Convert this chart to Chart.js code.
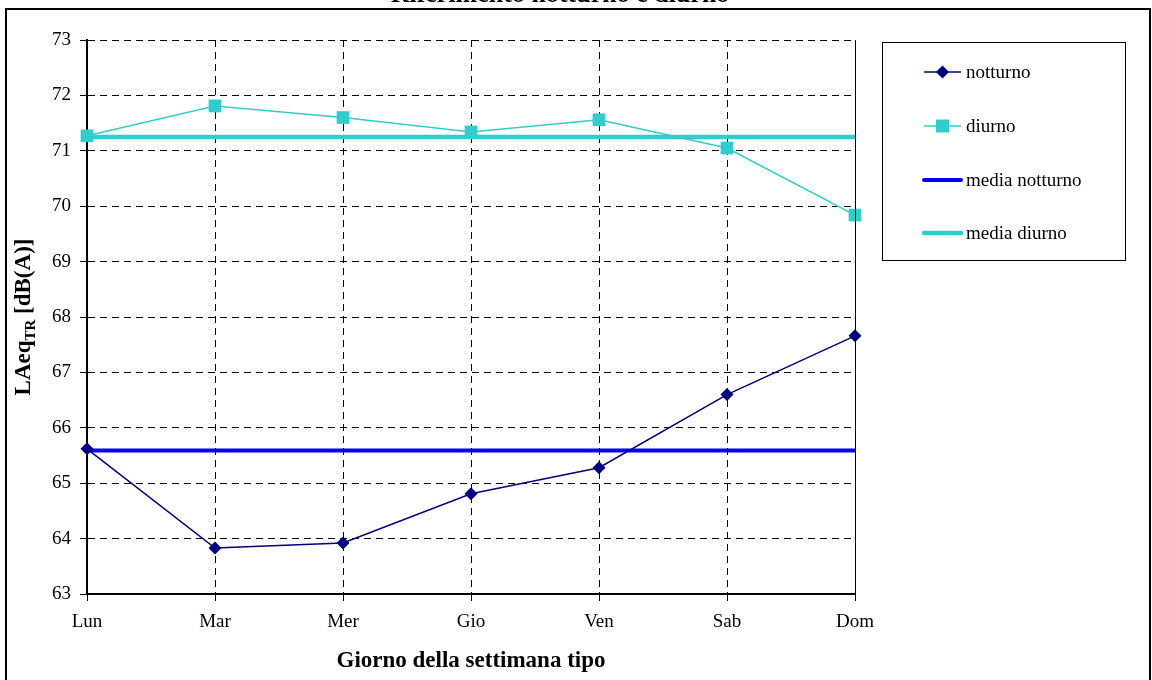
<!DOCTYPE html>
<html>
<head>
<meta charset="utf-8">
<script src="https://cdn.jsdelivr.net/npm/chart.js@4/dist/chart.umd.min.js"></script>
<style>
  html, body { margin: 0; padding: 0; background: #fff; }
  #wrap { width: 1152px; height: 680px; position: relative; }
</style>
</head>
<body>
<div id="wrap"><canvas id="chart" width="1152" height="680"></canvas></div>
<script>
const days = ["Lun", "Mar", "Mer", "Gio", "Ven", "Sab", "Dom"];
const notturno = [65.62, 63.83, 63.92, 64.81, 65.28, 66.60, 67.66];
const diurno = [71.27, 71.81, 71.60, 71.34, 71.56, 71.05, 69.84];
const mediaNotturno = [65.59, 65.59, 65.59, 65.59, 65.59, 65.59, 65.59];
const mediaDiurno = [71.25, 71.25, 71.25, 71.25, 71.25, 71.25, 71.25];
const yMin = 63;
const yMax = 73;
const yStep = 1;

const SERIF = "'Liberation Serif', 'Times New Roman', serif";
const NAVY = "#000080";
const TEAL = "#33CCCC";
const BLUE = "#0000FF";

const legendItems = [
  { label: "notturno", color: NAVY, width: 1.5, marker: "diamond" },
  { label: "diurno", color: TEAL, width: 1.5, marker: "square" },
  { label: "media notturno", color: BLUE, width: 4, marker: null },
  { label: "media diurno", color: TEAL, width: 4.5, marker: null }
];

function drawMarker(ctx, type, x, y, color) {
  ctx.fillStyle = color;
  ctx.beginPath();
  if (type === "diamond") {
    ctx.moveTo(x - 6.5, y);
    ctx.lineTo(x, y - 6.5);
    ctx.lineTo(x + 6.5, y);
    ctx.lineTo(x, y + 6.5);
    ctx.closePath();
  } else {
    ctx.rect(x - 6.5, y - 6.5, 13, 13);
  }
  ctx.fill();
}

const decorations = {
  id: "decorations",
  beforeDraw(chart) {
    const ctx = chart.ctx;
    ctx.save();
    ctx.fillStyle = "#fff";
    ctx.fillRect(0, 0, chart.width, chart.height);
    ctx.restore();
  },
  afterDraw(chart) {
    const ctx = chart.ctx;
    const area = chart.chartArea;
    ctx.save();

    // solid right edge of plot area
    ctx.strokeStyle = "#000";
    ctx.lineWidth = 1;
    ctx.beginPath();
    ctx.moveTo(Math.round(area.right) + 0.5, area.top);
    ctx.lineTo(Math.round(area.right) + 0.5, area.bottom);
    ctx.stroke();

    // outer frame
    ctx.lineWidth = 2;
    ctx.strokeRect(6, 9, 1144, 700);

    // title (mostly cut off at top)
    ctx.fillStyle = "#000";
    ctx.font = "bold 26px " + SERIF;
    ctx.textAlign = "center";
    ctx.textBaseline = "alphabetic";
    ctx.fillText("Riferimento notturno e diurno", 560, 1.5);

    // x axis title
    ctx.font = "bold 23px " + SERIF;
    ctx.fillText("Giorno della settimana tipo", (area.left + area.right) / 2, 667);

    // y axis title with subscript
    ctx.translate(30, (area.top + area.bottom) / 2);
    ctx.rotate(-Math.PI / 2);
    const big = "bold 23px " + SERIF;
    const small = "bold 15px " + SERIF;
    const parts = [
      { t: "LAeq", f: big, dy: 0 },
      { t: "TR", f: small, dy: 5 },
      { t: " [dB(A)]", f: big, dy: 0 }
    ];
    let total = 0;
    parts.forEach((p) => { ctx.font = p.f; p.w = ctx.measureText(p.t).width; total += p.w; });
    let px = -total / 2;
    ctx.textAlign = "left";
    parts.forEach((p) => {
      ctx.font = p.f;
      ctx.fillText(p.t, px, p.dy);
      px += p.w;
    });
    ctx.setTransform(1, 0, 0, 1, 0, 0);

    // legend
    ctx.lineWidth = 1;
    ctx.strokeStyle = "#000";
    ctx.strokeRect(882.5, 42.5, 243, 218);
    const rows = [72, 126, 180, 233];
    ctx.font = "19px " + SERIF;
    ctx.textAlign = "left";
    ctx.textBaseline = "middle";
    legendItems.forEach((item, i) => {
      const y = rows[i];
      ctx.strokeStyle = item.color;
      ctx.lineWidth = item.width;
      ctx.lineCap = item.marker ? "butt" : "round";
      ctx.beginPath();
      ctx.moveTo(924, y);
      ctx.lineTo(961, y);
      ctx.stroke();
      if (item.marker) drawMarker(ctx, item.marker, 942.5, y, item.color);
      ctx.fillStyle = "#000";
      ctx.fillText(item.label, 966, y + 1);
    });
    ctx.restore();
  }
};

new Chart(document.getElementById("chart"), {
  type: "line",
  data: {
    labels: days,
    datasets: [
      {
        label: "notturno",
        data: notturno,
        borderColor: NAVY,
        backgroundColor: NAVY,
        borderWidth: 1.5,
        pointStyle: "rectRot",
        pointRadius: 6.5,
        pointBorderWidth: 0,
        tension: 0,
        clip: false,
        order: 1
      },
      {
        label: "diurno",
        data: diurno,
        borderColor: TEAL,
        backgroundColor: TEAL,
        borderWidth: 1.5,
        pointStyle: "rect",
        pointRadius: 9,
        pointBorderWidth: 0,
        tension: 0,
        clip: false,
        order: 1
      },
      {
        label: "media notturno",
        data: mediaNotturno,
        borderColor: BLUE,
        borderWidth: 4,
        pointRadius: 0,
        clip: false,
        order: 2
      },
      {
        label: "media diurno",
        data: mediaDiurno,
        borderColor: TEAL,
        borderWidth: 4.5,
        pointRadius: 0,
        clip: false,
        order: 2
      }
    ]
  },
  options: {
    responsive: false,
    animation: false,
    events: [],
    layout: { padding: { top: 40, right: 297, left: 0, bottom: 0 } },
    plugins: {
      legend: { display: false },
      tooltip: { enabled: false },
      title: { display: false }
    },
    scales: {
      x: {
        type: "category",
        offset: false,
        afterFit(scale) { scale.height = 86; },
        grid: {
          color: "#000",
          lineWidth: 1,
          tickLength: 7,
          tickColor: "#000",
          tickBorderDash: []
        },
        border: { display: true, color: "#000", width: 2, dash: [7, 5] },
        ticks: {
          color: "#000",
          font: { family: SERIF, size: 19 },
          padding: 10,
          maxRotation: 0
        }
      },
      y: {
        min: yMin,
        max: yMax,
        afterFit(scale) { scale.width = 87; },
        grid: {
          color: "#000",
          lineWidth: 1,
          tickLength: 7,
          tickColor: "#000",
          tickBorderDash: []
        },
        border: { display: true, color: "#000", width: 2, dash: [7, 5] },
        ticks: {
          stepSize: yStep,
          color: "#000",
          font: { family: SERIF, size: 19 },
          padding: 9
        }
      }
    }
  },
  plugins: [decorations]
});
</script>
</body>
</html>
